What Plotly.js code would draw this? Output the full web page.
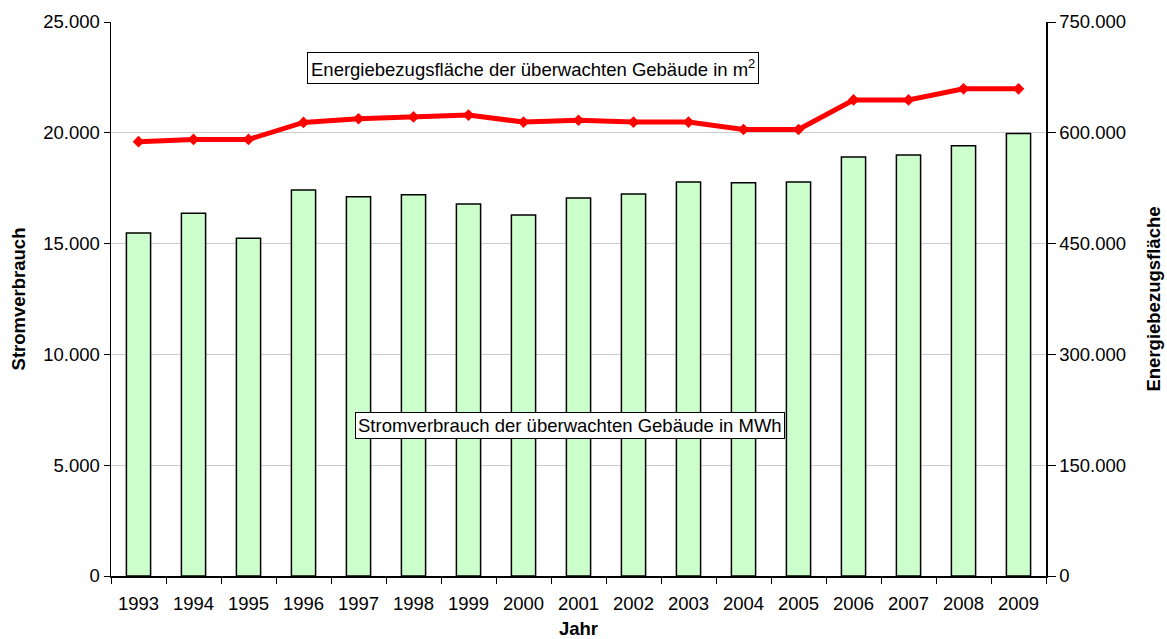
<!DOCTYPE html>
<html>
<head>
<meta charset="utf-8">
<script src="https://cdn.plot.ly/plotly-3.0.1.min.js"></script>
<style>html,body{margin:0;padding:0;background:#fff;}#chart{width:1167px;height:639px;}</style>
</head>
<body>
<div id="chart"></div>
<script>
const years = ["1993","1994","1995","1996","1997","1998","1999","2000","2001","2002","2003","2004","2005","2006","2007","2008","2009"];
const stromverbrauch = [15480, 16370, 15240, 17420, 17110, 17200, 16790, 16290, 17060, 17240, 17780, 17750, 17780, 18910, 19000, 19410, 19970];
const energiebezugsflaeche = [588000, 591000, 591000, 614000, 619000, 621500, 624000, 614500, 617000, 614500, 614500, 604500, 604500, 644500, 644500, 659500, 659500];

const font = "Liberation Sans, Arial, sans-serif";
const fs = 18.5;

const traces = [
  {
    type: "bar",
    x: years,
    y: stromverbrauch,
    name: "Stromverbrauch der überwachten Gebäude in MWh",
    marker: {color: "#ccffcc", line: {color: "#000000", width: 1.5}},
    yaxis: "y",
    hoverinfo: "x+y"
  },
  {
    type: "scatter",
    mode: "lines+markers",
    x: years,
    y: energiebezugsflaeche,
    name: "Energiebezugsfläche der überwachten Gebäude in m²",
    line: {color: "#ff0000", width: 5},
    marker: {symbol: "diamond", size: 9, color: "#ff0000"},
    yaxis: "y2",
    hoverinfo: "x+y"
  }
];

const layout = {
  width: 1167,
  height: 639,
  margin: {l: 111, r: 121, t: 22, b: 63},
  paper_bgcolor: "#ffffff",
  plot_bgcolor: "#ffffff",
  showlegend: false,
  separators: ",.",
  bargap: 0.56,
  font: {family: font, size: fs, color: "#000"},
  xaxis: {
    type: "category",
    range: [-0.5, 16.5],
    showline: true,
    linecolor: "#000",
    linewidth: 1.5,
    ticks: "outside",
    tickson: "boundaries",
    ticklen: 6,
    tickcolor: "#000",
    ticklabelstandoff: 10,
    showgrid: false,
    tickfont: {size: fs, family: font},
    title: {text: "Jahr", font: {size: fs, family: font, weight: "bold"}, standoff: 10},
    automargin: false,
    fixedrange: true
  },
  yaxis: {
    range: [0, 25000],
    dtick: 5000,
    tickformat: ",d",
    showline: true,
    linecolor: "#000",
    linewidth: 1.5,
    ticks: "outside",
    ticklen: 6,
    tickcolor: "#000",
    showgrid: true,
    gridcolor: "#cccccc",
    gridwidth: 1,
    zeroline: false,
    tickfont: {size: fs, family: font},
    title: {text: "Stromverbrauch", font: {size: fs, family: font, weight: "bold"}, standoff: 12},
    automargin: false,
    fixedrange: true
  },
  yaxis2: {
    overlaying: "y",
    side: "right",
    range: [0, 750000],
    dtick: 150000,
    tickformat: ",d",
    showline: true,
    linecolor: "#000",
    linewidth: 1.5,
    ticks: "outside",
    ticklen: 8,
    tickcolor: "#000",
    showgrid: false,
    zeroline: false,
    tickfont: {size: fs, family: font},
    title: {text: "Energiebezugsfläche", font: {size: fs, family: font, weight: "bold"}, standoff: 22},
    automargin: false,
    fixedrange: true
  },
  annotations: [
    {
      xref: "paper", yref: "paper",
      x: (533 - 111) / 935, y: (576 - 68) / 554,
      xanchor: "center", yanchor: "middle",
      text: "Energiebezugsfläche der überwachten Gebäude in m<sup>2</sup>",
      showarrow: false,
      font: {size: fs, family: font, color: "#000"},
      bgcolor: "#ffffff",
      bordercolor: "#000",
      borderwidth: 1,
      borderpad: 3
    },
    {
      xref: "paper", yref: "paper",
      x: (570 - 111) / 935, y: (576 - 426) / 554,
      xanchor: "center", yanchor: "middle",
      text: "Stromverbrauch der überwachten Gebäude in MWh",
      showarrow: false,
      font: {size: fs, family: font, color: "#000"},
      bgcolor: "#ffffff",
      bordercolor: "#000",
      borderwidth: 1,
      borderpad: 2
    }
  ]
};

Plotly.newPlot("chart", traces, layout, {displayModeBar: false, staticPlot: true});
</script>
</body>
</html>
